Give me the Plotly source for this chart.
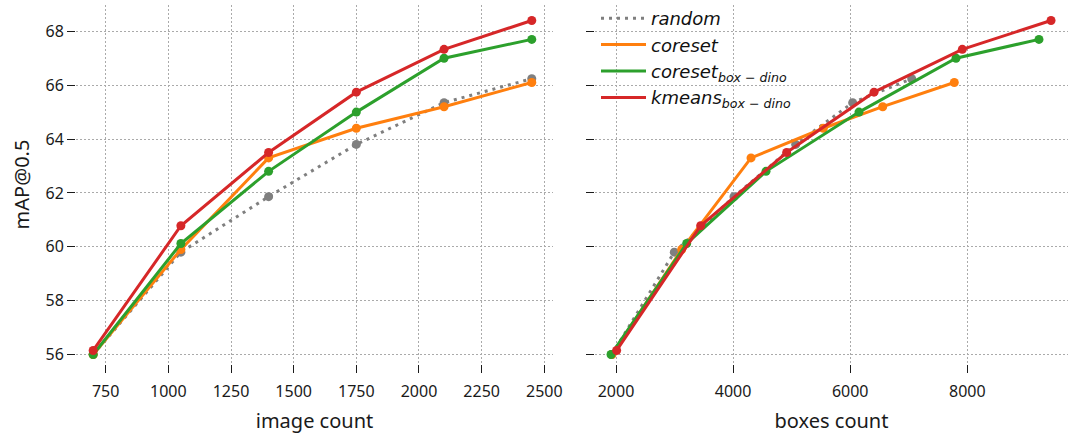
import plotly.graph_objects as go

# ---- data ----
image_count = [700, 1050, 1400, 1750, 2100, 2450]

random_map = [56.0, 59.8, 61.86, 63.8, 65.35, 66.24]
coreset_map = [56.0, 59.9, 63.3, 64.4, 65.2, 66.1]
coreset_box_map = [56.0, 60.12, 62.8, 65.0, 67.0, 67.7]
kmeans_box_map = [56.15, 60.78, 63.5, 65.74, 67.33, 68.4]

random_boxes = [1930, 2996, 4015, 5069, 6042, 7050]
coreset_boxes = [1930, 3122, 4306, 5541, 6555, 7778]
coreset_box_boxes = [1915, 3207, 4562, 6150, 7807, 9224]
kmeans_box_boxes = [2011, 3446, 4915, 6407, 7915, 9430]

names = ["<i>random</i>", "<i>coreset</i>",
         "<i>coreset<sub>box − dino</sub></i>", "<i>kmeans<sub>box − dino</sub></i>"]
colors = ["#7f7f7f", "#ff7f0e", "#2ca02c", "#d62728"]
dashes = ["3px,5px", "solid", "solid", "solid"]

left_y = [random_map, coreset_map, coreset_box_map, kmeans_box_map]
right_x = [random_boxes, coreset_boxes, coreset_box_boxes, kmeans_box_boxes]

W, H = 1068, 434
fig = go.Figure()

for i in range(4):
    fig.add_trace(go.Scatter(
        x=image_count, y=left_y[i], mode="lines+markers", name=names[i],
        line=dict(color=colors[i], width=3, dash=dashes[i]),
        marker=dict(color=colors[i], size=9),
        showlegend=False, xaxis="x", yaxis="y"))
for i in range(4):
    fig.add_trace(go.Scatter(
        x=right_x[i], y=left_y[i], mode="lines+markers", name=names[i],
        line=dict(color=colors[i], width=3, dash=dashes[i]),
        marker=dict(color=colors[i], size=9),
        showlegend=False, xaxis="x2", yaxis="y2"))
# legend entries (lines only, as in the reference)
for i in range(4):
    fig.add_trace(go.Scatter(
        x=[None], y=[None], mode="lines", name=names[i],
        line=dict(color=colors[i], width=3, dash=dashes[i]),
        showlegend=True, xaxis="x2", yaxis="y2"))

# pixel layout
top_px, bot_px = 5, 364
ydom = [(H - bot_px) / H, (H - top_px) / H]

# y mapping: 68 -> 31.3px, 56 -> 354.5px
ppu_y = (354.5 - 31.3) / 12
y_top = 68 + (31.3 - top_px) / ppu_y
y_bot = 56 - (bot_px - 354.5) / ppu_y

# left x: 750 -> 105.7, 2500 -> 544.3
lx0, lx1 = 76, 553
ppu_lx = (544.3 - 105.7) / 1750
lr0 = 750 + (lx0 - 105.7) / ppu_lx
lr1 = 750 + (lx1 - 105.7) / ppu_lx

# right x: 2000 -> 616, 8000 -> 967.3
rx0, rx1 = 595, 1068
ppu_rx = (967.3 - 616) / 6000
rr0 = 2000 + (rx0 - 616) / ppu_rx
rr1 = 2000 + (rx1 - 616) / ppu_rx

tickfont = dict(family="Noto Sans", size=16, color="#1a1a1a")
titlefont = dict(family="Noto Sans", size=20, color="#1a1a1a")
grid = dict(showgrid=True, gridcolor="#aaaaaa", gridwidth=1, griddash="1.5px,2.5px",
            showline=False, zeroline=False, ticks="outside", ticklen=8,
            tickwidth=1.3, tickcolor="#1a1a1a", tickfont=tickfont)

fig.update_layout(
    width=W, height=H,
    margin=dict(l=0, r=0, t=0, b=0),
    plot_bgcolor="white", paper_bgcolor="white",
    xaxis=dict(domain=[lx0 / W, lx1 / W], range=[lr0, lr1],
               tickvals=[750, 1000, 1250, 1500, 1750, 2000, 2250, 2500],
               ticklabelstandoff=5,
               title=dict(text="image count", font=titlefont, standoff=14),
               anchor="y", automargin=False, **grid),
    yaxis=dict(domain=ydom, range=[y_bot, y_top],
               tickvals=[56, 58, 60, 62, 64, 66, 68],
               title=dict(text="mAP@0.5", font=titlefont, standoff=10),
               anchor="x", automargin=False, **grid),
    xaxis2=dict(domain=[rx0 / W, rx1 / W], range=[rr0, rr1],
                tickvals=[2000, 4000, 6000, 8000],
                ticklabelstandoff=5,
                title=dict(text="boxes count", font=titlefont, standoff=14),
                anchor="y2", automargin=False, **grid),
    yaxis2=dict(domain=ydom, range=[y_bot, y_top],
                tickvals=[56, 58, 60, 62, 64, 66, 68], showticklabels=False,
                anchor="x2", automargin=False, **grid),
    legend=dict(x=596 / W, y=1.0, xanchor="left", yanchor="top",
                bgcolor="rgba(0,0,0,0)", itemwidth=45,
                font=dict(family="DejaVu Sans", size=18, color="#111111"),
                tracegroupgap=0),
    showlegend=True,
)

fig.write_html("out.html")
